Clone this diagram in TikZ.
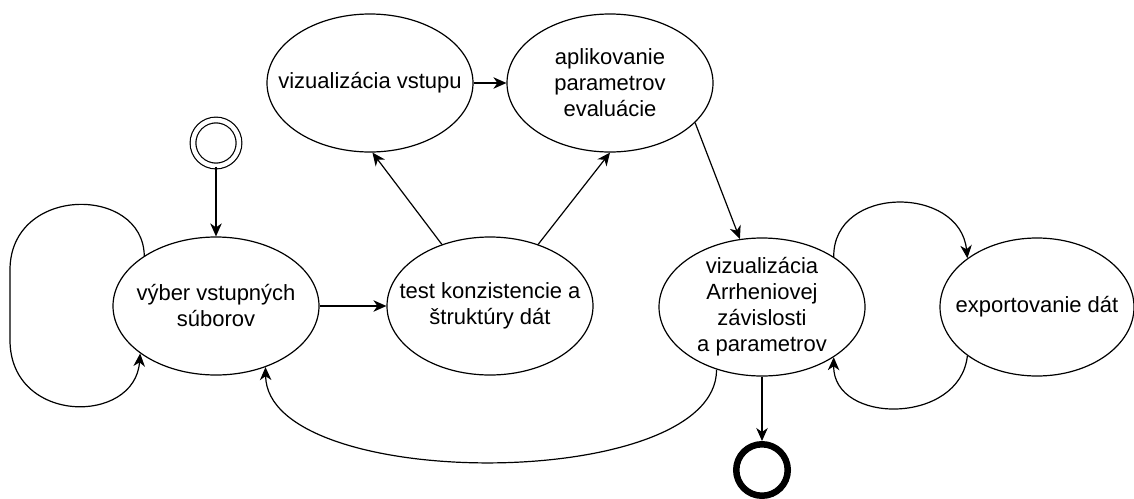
\documentclass[tikz,border=0pt]{standalone}
\usepackage{fontspec}
\setmainfont{Liberation Sans}
\usetikzlibrary{shapes.geometric,arrows.meta}

\tikzset{
  state/.style={ellipse, draw, line width=1.2pt, minimum width=206pt, minimum height=138pt,
    inner sep=-40pt, align=center, font=\fontsize{22}{26}\selectfont},
  startstate/.style={circle, draw, line width=1.2pt, double, double distance=4.5pt,
    minimum size=46pt, inner sep=0pt},
  endstate/.style={circle, draw, line width=6.5pt, minimum size=51.5pt, inner sep=0pt},
  trans/.style={-{Stealth[length=13pt,width=11.5pt,inset=4pt]}, line width=1.2pt}
}

\begin{document}
\begin{tikzpicture}[x=1pt,y=-1pt]
        \useasboundingbox (0,0) rectangle (1134,498);
        % states
        \node[startstate] (start) at (216,143) {};
        \node[state] (vyber) at (216,306) {výber vstupných\\súborov};
        \node[state] (test) at (490,306) {test konzistencie a\\štruktúry dát};
        \node[state] (vstup) at (370,83) {vizualizácia vstupu};
        \node[state] (aplik) at (610,83) {aplikovanie\\parametrov\\evaluácie};
        \node[state] (arrh) at (762,307) {vizualizácia\\Arrheniovej\\závislosti\\a parametrov};
        \node[state, minimum width=194pt] (export) at (1037,307) {exportovanie dát};
        \node[endstate] (end) at (762,470) {};
        % straight transitions
        \draw[trans] (start) -- (vyber);
        \draw[trans] (vyber.east) -- (test.west);
        \draw[trans] (test.128) -- (vstup.-88);
        \draw[trans] (test.52) -- (aplik.south);
        \draw[trans] (vstup.east) -- (aplik.west);
        \draw[trans] (aplik.-25) -- (arrh.108);
        \draw[trans] (arrh.south) -- (end.north);
        % loops and curved transitions
        \draw[trans] (vyber.145) .. controls (143,185) and (10,185) .. (10,270)
            -- (10,340) .. controls (10,425) and (135,425) .. (vyber.212);
        \draw[trans] (arrh.234) .. controls (717,493) and (267,493) .. (vyber.-51);
        \draw[trans] (arrh.35) .. controls (833,185) and (960,185) .. (export.145);
        \draw[trans] (export.215) .. controls (960,425) and (833,425) .. (arrh.-35);
\end{tikzpicture}
\end{document}
